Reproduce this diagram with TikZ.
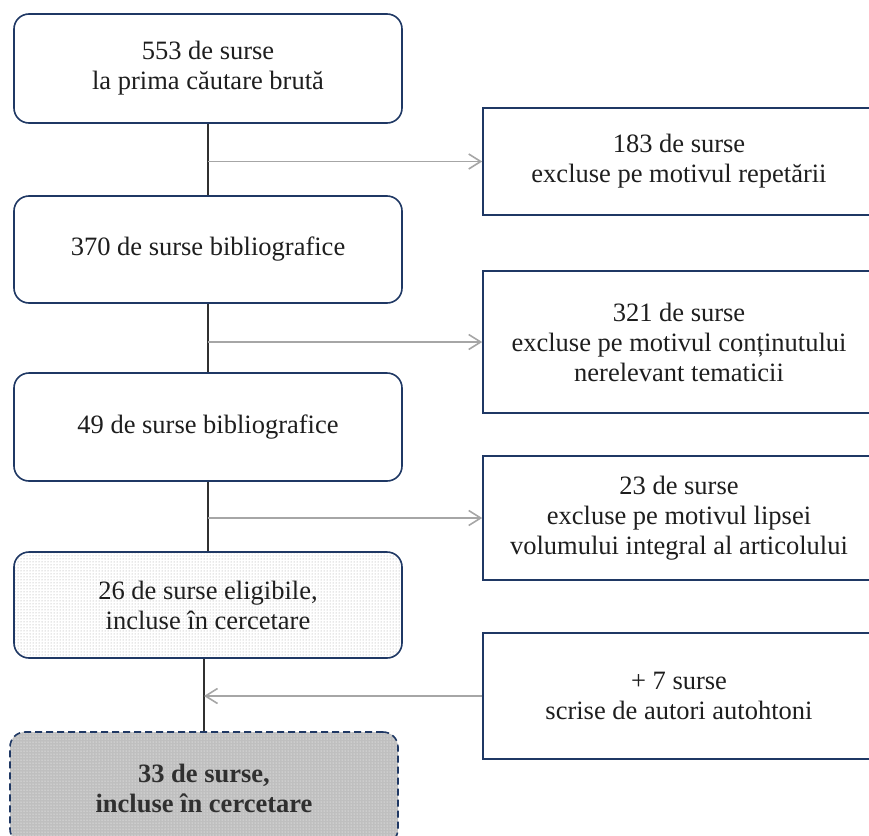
\documentclass[tikz,border=0pt]{standalone}
\usepackage{fontspec}
\setmainfont{LiberationSerif}[Extension=.ttf, UprightFont=*-Regular, BoldFont=*-Bold, ItalicFont=*-Italic, BoldItalicFont=*-BoldItalic]
\usetikzlibrary{arrows.meta,patterns}
\definecolor{navy}{HTML}{1F3864}
\definecolor{txt}{HTML}{1E1E1E}
\definecolor{arrgray}{HTML}{A6A6A6}
\definecolor{linedark}{HTML}{303030}
\tikzset{
  mainbox/.style={draw=navy, line width=1.6pt, rounded corners=15pt, fill=white,
    minimum width=388pt, align=center, text=txt, inner sep=0pt,
    font=\fontsize{26.5}{30}\selectfont},
  sidebox/.style={draw=navy, line width=1.6pt, fill=white,
    minimum width=392pt, align=center, text=txt, inner sep=0pt,
    font=\fontsize{26.5}{30}\selectfont},
  vline/.style={draw=linedark, line width=1.6pt},
  garrow/.style={draw=arrgray, line width=1.6pt, -{Straight Barb[length=12pt,width=15pt,line width=1.6pt]}},
}
\begin{document}
\begin{tikzpicture}[x=1pt,y=-1pt]
\useasboundingbox (0,0) rectangle (869,835);
\clip (0,0) rectangle (869,835);
% left column
\node[mainbox, minimum height=109pt] (b1) at (208,68.5) {553 de surse\\la prima căutare brută};
\node[mainbox, minimum height=107pt] (b2) at (208,249.5) {370 de surse bibliografice};
\node[mainbox, minimum height=108pt] (b3) at (208,427) {49 de surse bibliografice};
\node[mainbox, minimum height=106pt, preaction={fill=white}, pattern=dots, pattern color=gray!75] (b4) at (208,605) {26 de surse eligibile,\\incluse în cercetare};
\node[mainbox, minimum height=112pt, dashed, dash pattern=on 7pt off 4pt, preaction={fill=gray!50}, pattern=dots, pattern color=white, text=linedark, font=\fontsize{26.5}{30}\selectfont\bfseries] (b5) at (204,788) {33 de surse,\\incluse în cercetare};
% right column
\node[sidebox, minimum height=107pt] (r1) at (679,161.5) {183 de surse\\excluse pe motivul repetării};
\node[sidebox, minimum height=142pt] (r2) at (679,342) {321 de surse\\excluse pe motivul conținutului\\nerelevant tematicii};
\node[sidebox, minimum height=124pt] (r3) at (679,518) {23 de surse\\excluse pe motivul lipsei\\volumului integral al articolului};
\node[sidebox, minimum height=126pt] (r4) at (679,696) {+ 7 surse\\scrise de autori autohtoni};
% vertical connectors
\draw[vline] (b1.south) -- (b2.north);
\draw[vline] (b2.south) -- (b3.north);
\draw[vline] (b3.south) -- (b4.north);
\draw[vline] (b5.north) -- (b5.north |- b4.south);
% arrows
\draw[garrow] (b1.south |- r1.west) -- (r1.west);
\draw[garrow] (b2.south |- r2.west) -- (r2.west);
\draw[garrow] (b3.south |- r3.west) -- (r3.west);
\draw[garrow] (r4.west) -- (b5.north |- r4.west);
\end{tikzpicture}
\end{document}
